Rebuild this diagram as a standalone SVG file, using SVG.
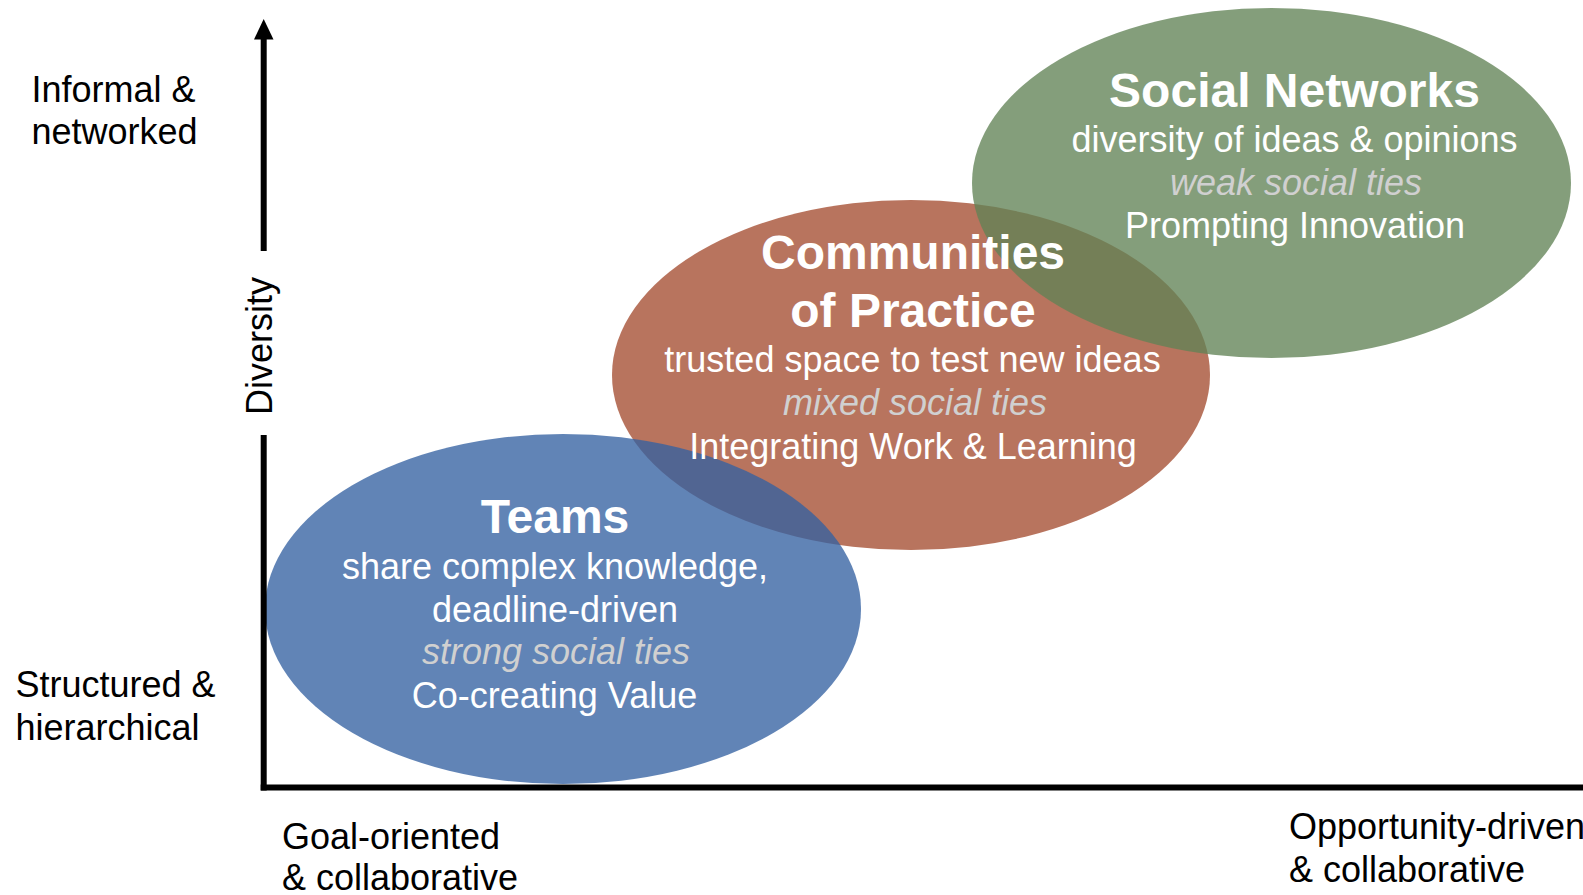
<svg xmlns="http://www.w3.org/2000/svg" width="1583" height="895" viewBox="0 0 1583 895">
  <style>
    .t { font-family: "Liberation Sans", Arial, sans-serif; text-anchor: middle; fill: #ffffff; }
    .h { font-size: 48px; font-weight: bold; }
    .r { font-size: 36px; }
    .i { font-size: 36px; font-style: italic; fill: #d0d0d0; }
    .ax { font-family: "Liberation Sans", Arial, sans-serif; font-size: 36px; fill: #000000; }
    .blob { opacity: 0.78; }
  </style>
  <rect x="0" y="0" width="1583" height="895" fill="#ffffff"/>

  <!-- node shapes (painted first so all labels stay on top) -->
  <g id="communities-of-practice">
    <ellipse class="blob" cx="911" cy="375" rx="299" ry="175" fill="#a44d31"/>
  </g>
  <g id="social-networks">
    <ellipse class="blob" cx="1271.5" cy="183" rx="299.5" ry="175" fill="#618356"/>
  </g>
  <g id="teams">
    <ellipse class="blob" cx="563" cy="609" rx="298" ry="175" fill="#3461a1"/>
  </g>

  <!-- axes -->
  <g id="connectors" stroke="#000000" stroke-width="6" fill="none">
    <line x1="263.7" y1="36" x2="263.7" y2="251"/>
    <line x1="263.7" y1="435" x2="263.7" y2="790.5"/>
    <line x1="260.7" y1="787.5" x2="1583" y2="787.5"/>
    <polygon points="263.7,19 254,39.5 273.5,39.5" fill="#000000" stroke="none"/>
  </g>

  <!-- node labels -->
  <g id="social-networks-label">
    <text class="t h" x="1294.5" y="106.5">Social Networks</text>
    <text class="t r" x="1294.5" y="152">diversity of ideas &amp; opinions</text>
    <text class="t i" x="1296" y="195">weak social ties</text>
    <text class="t r" x="1295" y="238">Prompting Innovation</text>
  </g>
  <g id="communities-of-practice-label">
    <text class="t h" x="913" y="269">Communities</text>
    <text class="t h" x="913" y="326.5">of Practice</text>
    <text class="t r" x="912.5" y="372">trusted space to test new ideas</text>
    <text class="t i" x="915" y="415">mixed social ties</text>
    <text class="t r" x="913" y="458.5">Integrating Work &amp; Learning</text>
  </g>
  <g id="teams-label">
    <text class="t h" x="555" y="533">Teams</text>
    <text class="t r" x="555" y="578.5">share complex knowledge,</text>
    <text class="t r" x="555" y="621.5">deadline-driven</text>
    <text class="t i" x="556" y="664">strong social ties</text>
    <text class="t r" x="554.5" y="707.5">Co-creating Value</text>
  </g>

  <!-- axis labels -->
  <g id="axis-labels">
    <text class="ax" x="31.5" y="101.5">Informal &amp;</text>
    <text class="ax" x="31.5" y="144">networked</text>
    <text class="ax" x="15.5" y="697">Structured &amp;</text>
    <text class="ax" x="15.5" y="739.5">hierarchical</text>
    <text class="ax" x="282" y="848.5">Goal-oriented</text>
    <text class="ax" x="282" y="890">&amp; collaborative</text>
    <text class="ax" x="1289" y="839">Opportunity-driven</text>
    <text class="ax" x="1289" y="882">&amp; collaborative</text>
    <text class="ax" transform="translate(271.5,346) rotate(-90)" text-anchor="middle">Diversity</text>
  </g>
</svg>
